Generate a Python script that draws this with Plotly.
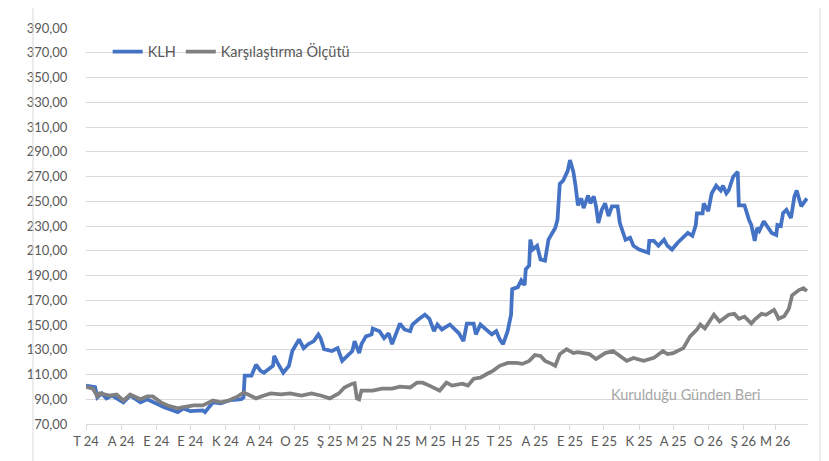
import plotly.graph_objects as go

# ---- data ----
klh_dates = [
    "2024-07-01", "2024-07-09", "2024-07-11", "2024-07-15", "2024-07-19", "2024-07-24",
    "2024-08-03", "2024-08-09", "2024-08-18", "2024-08-24", "2024-09-08", "2024-09-20",
    "2024-09-25", "2024-10-01", "2024-10-12", "2024-10-14", "2024-10-21", "2024-10-28",
    "2024-11-04", "2024-11-15", "2024-11-17", "2024-11-18", "2024-11-24", "2024-11-28",
    "2024-12-02", "2024-12-05", "2024-12-13", "2024-12-14", "2024-12-17", "2024-12-22",
    "2024-12-27", "2024-12-30", "2025-01-03", "2025-01-05", "2025-01-09", "2025-01-13",
    "2025-01-18", "2025-01-22", "2025-01-24", "2025-01-27", "2025-02-03", "2025-02-08",
    "2025-02-12", "2025-02-16", "2025-02-21", "2025-02-23", "2025-02-27", "2025-03-01",
    "2025-03-05", "2025-03-10", "2025-03-11", "2025-03-17", "2025-03-21", "2025-03-25",
    "2025-03-28", "2025-04-04", "2025-04-08", "2025-04-13", "2025-04-15", "2025-04-21",
    "2025-04-26", "2025-04-30", "2025-05-04", "2025-05-07", "2025-05-11", "2025-05-18",
    "2025-05-22", "2025-05-26", "2025-05-30", "2025-06-02", "2025-06-08", "2025-06-10",
    "2025-06-14", "2025-06-20", "2025-06-24", "2025-06-28", "2025-07-01", "2025-07-04",
    "2025-07-08", "2025-07-11", "2025-07-12", "2025-07-17", "2025-07-20", "2025-07-23",
    "2025-07-24", "2025-07-27", "2025-07-28", "2025-07-30", "2025-08-03", "2025-08-06",
    "2025-08-10", "2025-08-13", "2025-08-16", "2025-08-19", "2025-08-21", "2025-08-23",
    "2025-08-26", "2025-08-30", "2025-09-01", "2025-09-04", "2025-09-06", "2025-09-08",
    "2025-09-11", "2025-09-13", "2025-09-17", "2025-09-19", "2025-09-22", "2025-09-24",
    "2025-09-26", "2025-09-29", "2025-10-02", "2025-10-05", "2025-10-08", "2025-10-13",
    "2025-10-15", "2025-10-18", "2025-10-20", "2025-10-24", "2025-10-27", "2025-11-01",
    "2025-11-05", "2025-11-09", "2025-11-10", "2025-11-14", "2025-11-18", "2025-11-23",
    "2025-11-26", "2025-11-30", "2025-12-05", "2025-12-09", "2025-12-14", "2025-12-18",
    "2025-12-21", "2025-12-22", "2025-12-27", "2025-12-28", "2026-01-01", "2026-01-04",
    "2026-01-08", "2026-01-12", "2026-01-14", "2026-01-17", "2026-01-19", "2026-01-23",
    "2026-01-27", "2026-01-28", "2026-02-02", "2026-02-06", "2026-02-08", "2026-02-11",
    "2026-02-13", "2026-02-15", "2026-02-19", "2026-02-23", "2026-02-26", "2026-03-02",
    "2026-03-03", "2026-03-06", "2026-03-08", "2026-03-11", "2026-03-15", "2026-03-18",
    "2026-03-20", "2026-03-24", "2026-03-29",
]
klh_values = [
    101.0, 99.7, 91.5, 94.7, 90.7, 93.0,
    87.5, 93.0, 87.5, 90.0, 83.6, 79.6,
    82.6, 80.5, 81.0, 79.6, 87.5, 86.7,
    89.0, 90.0, 91.5, 109.0, 109.0, 118.0,
    113.0, 111.4, 117.0, 125.0, 119.4, 111.4,
    117.0, 129.0, 135.3, 138.4, 131.3, 134.5,
    137.0, 142.4, 139.3, 130.5, 129.0, 131.3,
    121.0, 125.0, 129.0, 137.0, 127.3, 134.5,
    140.8, 142.4, 147.2, 145.0, 139.3, 143.3,
    134.5, 151.2, 146.4, 145.0, 150.4, 155.0,
    158.3, 155.0, 145.0, 150.4, 146.4, 150.4,
    147.2, 143.3, 137.0, 151.2, 151.2, 142.4,
    150.4, 145.0, 142.4, 145.0, 138.4, 134.5,
    145.0, 158.3, 179.0, 180.6, 186.0, 182.2,
    195.0, 198.0, 219.0, 211.0, 214.0, 203.0,
    202.0, 219.0, 224.5, 228.4, 235.0, 264.0,
    266.7, 274.6, 283.3, 273.8, 261.8, 246.7,
    252.3, 244.4, 254.7, 248.3, 253.9, 245.9,
    232.4, 243.0, 248.3, 238.0, 245.9, 245.9,
    232.4, 224.4, 218.9, 220.5, 214.0, 211.0,
    210.0, 208.5, 218.0, 218.0, 214.0, 218.9,
    214.0, 211.0, 216.5, 220.5, 224.4, 222.0,
    230.8, 240.3, 240.3, 248.3, 242.0, 256.3,
    262.6, 258.7, 262.6, 256.3, 258.7, 269.8,
    273.8, 246.7, 246.7, 234.8, 230.8, 218.0,
    228.4, 226.0, 233.9, 228.4, 224.4, 222.8,
    230.8, 230.0, 240.3, 243.0, 236.4, 253.9,
    258.7, 245.9, 252.3,
]

bench_dates = [
    "2024-07-01", "2024-07-07", "2024-07-11", "2024-07-13", "2024-07-22", "2024-07-28",
    "2024-08-03", "2024-08-09", "2024-08-18", "2024-08-24", "2024-08-29", "2024-09-05",
    "2024-09-11", "2024-09-20", "2024-09-25", "2024-10-04", "2024-10-12", "2024-10-16",
    "2024-10-21", "2024-10-28", "2024-11-04", "2024-11-12", "2024-11-17", "2024-11-21",
    "2024-11-26", "2024-11-28", "2024-12-05", "2024-12-11", "2024-12-20", "2024-12-28",
    "2025-01-07", "2025-01-16", "2025-01-24", "2025-02-01", "2025-02-09", "2025-02-14",
    "2025-02-21", "2025-02-23", "2025-02-25", "2025-02-27", "2025-03-01", "2025-03-11",
    "2025-03-19", "2025-03-28", "2025-04-04", "2025-04-13", "2025-04-19", "2025-04-24",
    "2025-04-30", "2025-05-09", "2025-05-15", "2025-05-20", "2025-05-29", "2025-06-03",
    "2025-06-08", "2025-06-14", "2025-06-20", "2025-06-25", "2025-07-01", "2025-07-08",
    "2025-07-16", "2025-07-21", "2025-07-27", "2025-08-01", "2025-08-06", "2025-08-10",
    "2025-08-16", "2025-08-19", "2025-08-23", "2025-08-29", "2025-09-04", "2025-09-08",
    "2025-09-13", "2025-09-18", "2025-09-24", "2025-10-02", "2025-10-09", "2025-10-15",
    "2025-10-21", "2025-10-27", "2025-11-05", "2025-11-14", "2025-11-22", "2025-11-26",
    "2025-12-01", "2025-12-10", "2025-12-16", "2025-12-22", "2025-12-25", "2025-12-29",
    "2026-01-06", "2026-01-11", "2026-01-19", "2026-01-24", "2026-01-28", "2026-02-02",
    "2026-02-08", "2026-02-11", "2026-02-17", "2026-02-21", "2026-02-28", "2026-03-02",
    "2026-03-04", "2026-03-09", "2026-03-13", "2026-03-16", "2026-03-22", "2026-03-26",
    "2026-03-29",
]
bench_values = [
    100.0, 98.6, 92.5, 94.7, 93.0, 93.8,
    89.0, 93.8, 90.0, 92.3, 92.3, 87.5,
    85.0, 82.6, 83.6, 85.0, 85.0, 86.7,
    89.0, 87.5, 89.0, 92.3, 95.4, 93.8,
    91.5, 90.7, 93.0, 94.7, 94.0, 94.7,
    93.0, 94.7, 93.0, 90.7, 94.7, 99.5,
    102.6, 103.0, 90.7, 89.9, 97.0, 97.0,
    98.6, 98.6, 100.2, 99.5, 103.4, 103.4,
    101.0, 97.0, 103.4, 101.0, 102.6, 101.0,
    106.6, 107.4, 110.6, 113.0, 117.0, 119.4,
    119.4, 118.6, 121.0, 125.7, 125.0, 121.0,
    118.6, 117.0, 126.5, 130.5, 127.3, 128.0,
    127.3, 126.5, 122.5, 127.3, 129.0, 125.0,
    121.0, 123.4, 121.0, 123.4, 129.0, 126.5,
    127.3, 131.3, 140.8, 146.4, 150.4, 147.2,
    158.3, 152.8, 158.3, 159.0, 155.0, 156.8,
    151.2, 154.4, 159.0, 158.3, 162.3, 159.0,
    155.0, 157.0, 163.0, 174.0, 178.2, 179.8,
    177.4,
]

tick_dates = [
    "2024-07-01", "2024-08-01", "2024-09-01", "2024-10-01", "2024-11-01", "2024-12-01",
    "2025-01-01", "2025-02-01", "2025-03-01", "2025-04-01", "2025-05-01", "2025-06-01",
    "2025-07-01", "2025-08-01", "2025-09-01", "2025-10-01", "2025-11-01", "2025-12-01",
    "2026-01-01", "2026-02-01", "2026-03-01",
]
tick_labels = [
    "T 24", "A 24", "E 24", "E 24", "K 24", "A 24", "O 25", "Ş 25", "M 25", "N 25",
    "M 25", "H 25", "T 25", "A 25", "E 25", "E 25", "K 25", "A 25", "O 26", "Ş 26", "M 26",
]
y_ticks = [70, 90, 110, 130, 150, 170, 190, 210, 230, 250, 270, 290, 310, 330, 350, 370, 390]

series_names = ["KLH", "Karşılaştırma Ölçütü"]
note_text = "Kurulduğu Günden Beri"

FONT = "Lato"
TXT = "#595959"
GRID = "#D9D9D9"

fig = go.Figure()
fig.add_trace(go.Scatter(
    x=klh_dates, y=klh_values, name=series_names[0], mode="lines",
    line=dict(color="#4472C4", width=3.75),
))
fig.add_trace(go.Scatter(
    x=bench_dates, y=bench_values, name=series_names[1], mode="lines",
    line=dict(color="#808080", width=3.75),
))

# the page adds an 8px body margin, so the figure is 821x453 drawn at (8,8)
fig.update_layout(
    width=821, height=453,
    margin=dict(l=78, r=21, t=14, b=37),
    paper_bgcolor="white", plot_bgcolor="white",
    separators=",.",
    font=dict(family=FONT, size=13, color=TXT),
    showlegend=True,
    legend=dict(
        orientation="h", x=0.03, y=0.94, xanchor="left", yanchor="middle",
        bgcolor="rgba(0,0,0,0)", font=dict(family=FONT, size=14.5, color=TXT),
        itemwidth=30, tracegroupgap=0,
    ),
    xaxis=dict(
        type="date", range=["2024-07-01", "2026-03-30"],
        tickvals=tick_dates, ticktext=tick_labels, tickangle=0,
        showgrid=False, zeroline=False,
        showline=True, linecolor=GRID, linewidth=1,
        ticks="outside", ticklen=5, tickcolor=GRID, tickwidth=1,
        tickfont=dict(family=FONT, size=13, color=TXT),
    ),
    yaxis=dict(
        range=[70, 390], tickvals=y_ticks, tickformat=".2f",
        showgrid=True, gridcolor=GRID, gridwidth=1, zeroline=False,
        showline=False, ticks="outside", ticklen=15, tickcolor="rgba(0,0,0,0)",
        tickfont=dict(family=FONT, size=13, color=TXT),
    ),
    annotations=[dict(
        text=note_text, xref="paper", yref="paper", x=0.831, y=0.075,
        xanchor="center", yanchor="middle", showarrow=False,
        font=dict(family=FONT, size=14.5, color="#A6A6A6"),
    )],
    shapes=[
        dict(type="line", xref="paper", yref="paper", x0=-0.0734, x1=-0.0734,
             y0=-0.1, y1=1.06, line=dict(color=GRID, width=1)),
        dict(type="line", xref="paper", yref="paper", x0=1.0166, x1=1.0166,
             y0=-0.1, y1=1.06, line=dict(color=GRID, width=1)),
    ],
)

fig.write_html("out.html")
